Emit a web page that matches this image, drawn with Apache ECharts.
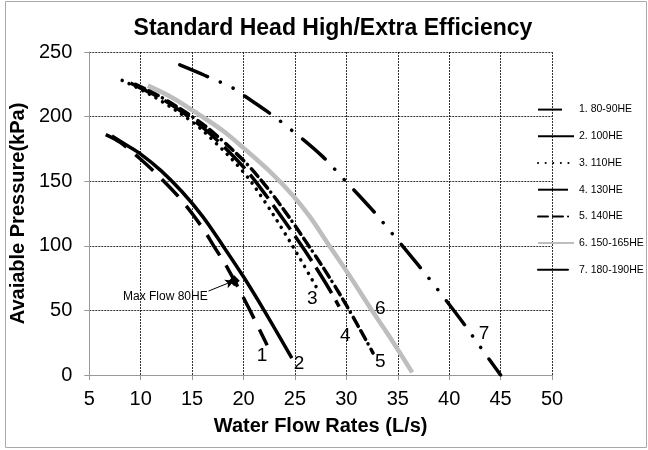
<!DOCTYPE html>
<html><head><meta charset="utf-8">
<script src="https://cdn.jsdelivr.net/npm/echarts@6/dist/echarts.min.js"></script>
<style>html,body{margin:0;padding:0;background:#fff}#c{width:648px;height:450px}</style>
</head><body><div id="c"></div>
<script>
const names = ['1. 80-90HE','2. 100HE','3. 110HE','4. 130HE','5. 140HE','6. 150-165HE','7. 180-190HE'];
const curveLabels = ['1','2','3','4','5','6','7'];
const xTicks = [5,10,15,20,25,30,35,40,45,50];
const yTicks = [0,50,100,150,200,250];
const s1 = [[6.6,186],[8,180],[10,167],[12,152],[14,135],[16,114],[17.1,100],[18.5,82],[20.5,52],[22.3,23]];
const s2 = [[7.2,185],[8.6,178],[10,171],[12,158],[14,142],[16,123],[18,100],[20,76],[22,50],[24.7,13]];
const s3 = [[8.2,228],[10,221],[12,212],[15,196],[17,182],[20,157],[22,135],[24,110],[25.5,90],[27.3,65]];
const s4 = [[9,226],[10,222],[12,214],[15,198],[17,185],[20,161],[22,141],[24,119],[26,96],[28,71],[29.3,53]];
const s5 = [[9.5,225],[12,215],[15,200],[17,188],[20,166],[22,148],[24,127],[26,104],[28,80],[30,54],[32.6,17]];
const s6 = [[10.7,224],[13,215],[15.4,203],[18,189],[20.1,175],[22.5,158],[24.8,139],[26.5,122],[28.1,103],[30.3,77],[32.4,51],[34.5,26],[36.4,2]];
const s7 = [[13.8,240],[16.2,232],[19,222],[20.1,216],[22.3,204],[24.6,190],[27.7,169],[29.7,152],[32.5,128],[34.3,111],[37,85],[38.8,67],[41.3,41],[43,22],[45,0]];
const labelPos = [[21.8,15],[25.4,9],[26.7,59],[29.9,30],[33.3,10],[33.3,51],[43.4,32]];
const maxFlowPoint = [19.1,73];
const maxFlowArrowStart = [16.6,65];
const maxFlowText = 'Max Flow 80HE';
const maxFlowTextPos = [12.4,61];

const data = [s1,s2,s3,s4,s5,s6,s7];
const styles = [
  {color:'#000', width:3.5, type:[24,12]},
  {color:'#000', width:3.5, type:'solid'},
  {color:'#000', width:3.5, type:[0.1,7.5], cap:'round'},
  {color:'#000', width:3.5, type:[30,8]},
  {color:'#000', width:3.5, type:[10,5,10,5,0.1,6], cap:'round'},
  {color:'#BEBEBE', width:4.5, type:'solid'},
  {color:'#000', width:3.5, type:[30,14,0.1,14,0.1,14], cap:'round'}
];
const FONT = 'Liberation Sans, Arial, sans-serif';
const series = data.map((d,i)=>{
  const st = styles[i];
  const s = {
    name:names[i], type:'line', data:d, smooth:0.35, symbol:'none', showSymbol:false,
    lineStyle:{color:st.color,width:st.width,type:st.type,cap:st.cap||'butt'},
    itemStyle:{color:st.color},
    z: i===5?2:3,
    markPoint:{
      symbol:'circle', symbolSize:1, itemStyle:{color:'rgba(0,0,0,0)'},
      label:{show:true, formatter:curveLabels[i], color:'#000', fontSize:19, fontFamily:FONT, position:'inside'},
      data:[{coord:labelPos[i]}]
    }
  };
  if(i===0){
    s.markPoint.data.push({coord:maxFlowPoint, symbol:'diamond', symbolSize:11, itemStyle:{color:'#000'}, label:{show:false}});
    s.markPoint.data.push({coord:maxFlowTextPos, label:{show:true, formatter:maxFlowText, fontSize:12, fontFamily:FONT, color:'#000'}});
    s.markLine = {silent:true, symbol:['none','arrow'], symbolSize:[7,9], lineStyle:{color:'#000', width:1, type:'solid'}, label:{show:false},
      data:[[{coord:maxFlowArrowStart},{coord:maxFlowPoint}]]};
  }
  return s;
});

const chart = echarts.init(document.getElementById('c'));
chart.setOption({
  animation:false,
  backgroundColor:'#fff',
  title:{text:'Standard Head High/Extra Efficiency', left:328, textAlign:'center', top:12,
    textStyle:{fontFamily:FONT, fontWeight:'bold', fontSize:23, color:'#000'}},
  grid:{left:85, right:96, top:52, bottom:75},
  legend:{orient:'vertical', left:532, top:99, itemWidth:36, itemHeight:14, itemGap:15.5,
    itemStyle:{opacity:0},
    textStyle:{fontFamily:FONT, fontSize:10.5, color:'#000'}, data:names},
  xAxis:{type:'value', min:5, max:50, interval:5,
    name:'Water Flow Rates (L/s)', nameLocation:'middle', nameGap:41,
    nameTextStyle:{fontFamily:FONT, fontWeight:'bold', fontSize:20, color:'#000'},
    axisLine:{lineStyle:{color:'#999', width:1}},
    axisTick:{show:true, length:5, lineStyle:{color:'#999'}},
    axisLabel:{fontFamily:FONT, fontSize:20, color:'#000', margin:14, formatter:v=>xTicks.includes(v)?String(v):''},
    splitLine:{show:true, lineStyle:{color:'#000', type:[2,1], width:0.8}}},
  yAxis:{type:'value', min:0, max:250, interval:50,
    name:'Avaiable Pressure(kPa)', nameLocation:'middle', nameGap:43, nameRotate:90,
    nameTextStyle:{fontFamily:FONT, fontWeight:'bold', fontSize:20, color:'#000'},
    axisLine:{show:true, lineStyle:{color:'#999', width:1}},
    axisTick:{show:true, length:5, lineStyle:{color:'#999'}},
    axisLabel:{fontFamily:FONT, fontSize:20, color:'#000', margin:17, formatter:v=>yTicks.includes(v)?String(v):''},
    splitLine:{show:true, lineStyle:{color:'#000', type:[2,1], width:0.8}}},
  graphic:[{type:'rect', shape:{x:5.5,y:1.5,width:641,height:446}, style:{fill:'none', stroke:'#aaa', lineWidth:1}, silent:true}],
  series:series
});
</script></body></html>
